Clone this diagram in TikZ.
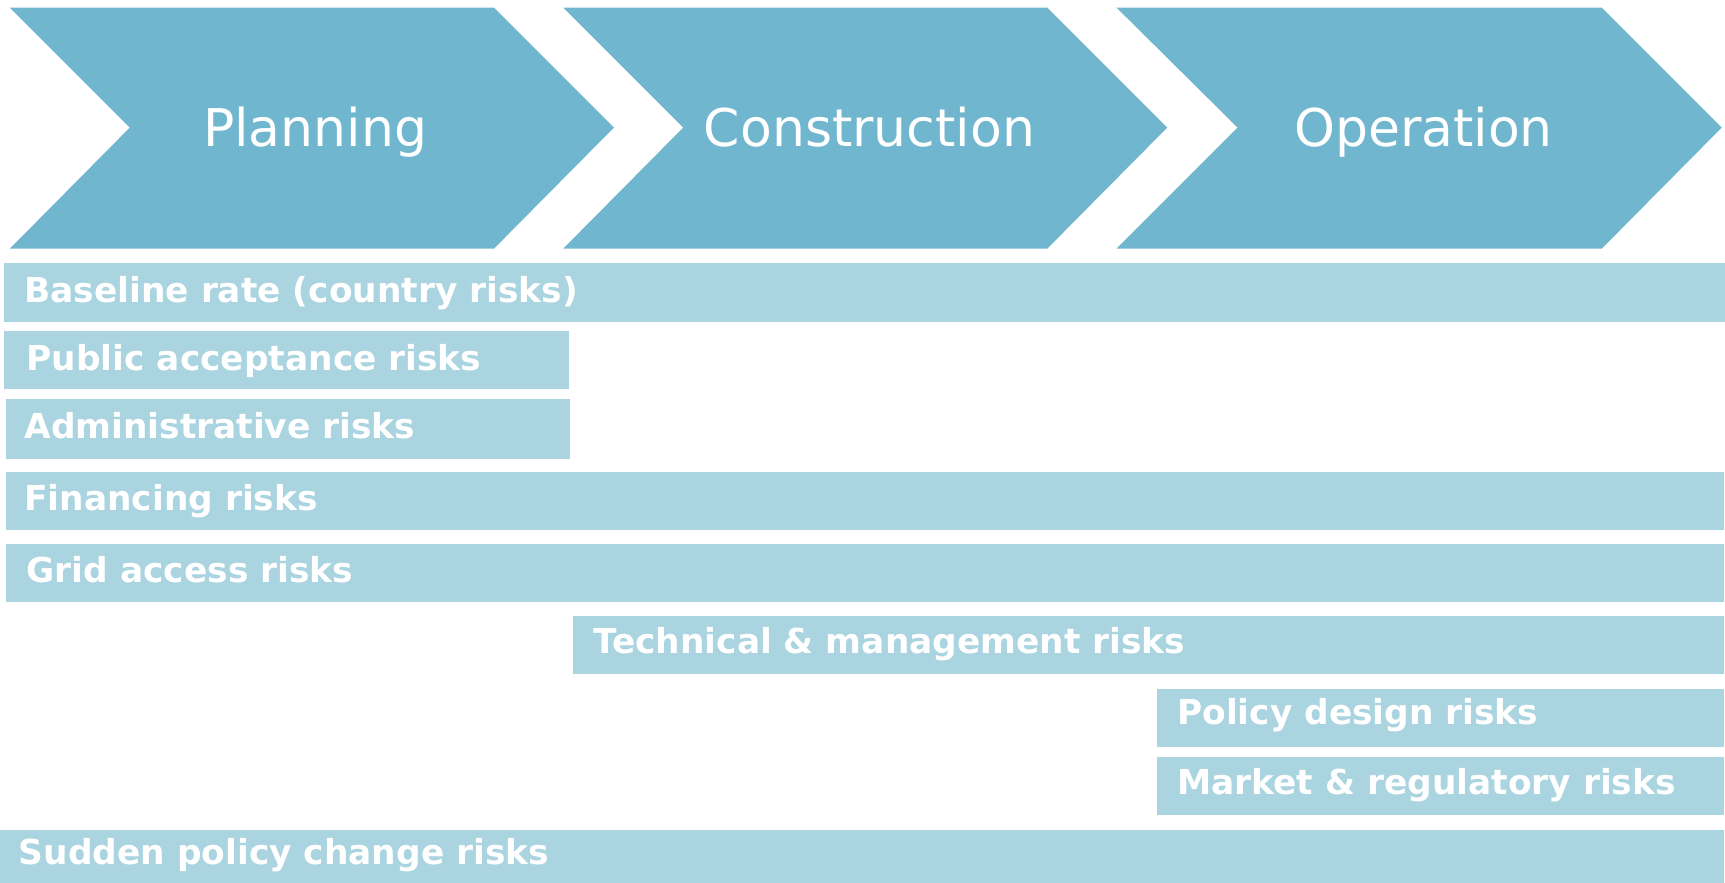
\documentclass[tikz,border=0pt]{standalone}
\usepackage{fontspec}
\setmainfont{DejaVu Sans}
\definecolor{chev}{RGB}{112,182,207}
\definecolor{barc}{RGB}{169,212,224}
\begin{document}
\begin{tikzpicture}[x=1pt,y=-1pt,
  chevron/.style={fill=chev},
  riskbar/.style={fill=barc},
  phase/.style={text=white,inner sep=0pt,anchor=base,font=\fontsize{52}{60}\selectfont},
  risk/.style={text=white,inner sep=0pt,anchor=base west,font=\bfseries\fontsize{34.4}{40}\selectfont}]
\useasboundingbox (0,0) rectangle (1725,883);
% chevrons
\fill[chevron] (9.9,7.7) -- (494,7.7) -- (613.9,127.6) -- (494,248.6) -- (9.9,248.6) -- (129.8,127.6) -- cycle;
\fill[chevron] (563.3,7.7) -- (1047.3,7.7) -- (1167.2,127.6) -- (1047.3,248.6) -- (563.3,248.6) -- (683.2,127.6) -- cycle;
\fill[chevron] (1116.6,7.7) -- (1601.8,7.7) -- (1721.7,127.6) -- (1601.8,248.6) -- (1116.6,248.6) -- (1237.6,127.6) -- cycle;
\node[phase] (planning) at (315,146.3) {Planning};
\node[phase] (construction) at (869.5,146.3) {Construction};
\node[phase] (operation) at (1423.5,146.3) {Operation};
% bars
\fill[riskbar] (4.4,263) rectangle (1725,322.3);
\fill[riskbar] (4.4,331) rectangle (568.8,389.4);
\fill[riskbar] (5.5,399.3) rectangle (569.9,458.7);
\fill[riskbar] (5.5,472) rectangle (1724,530);
\fill[riskbar] (5.5,543.5) rectangle (1724,601.8);
\fill[riskbar] (573,616) rectangle (1724,674.4);
\fill[riskbar] (1157,688.7) rectangle (1724,747);
\fill[riskbar] (1157,757) rectangle (1724,815);
\fill[riskbar] (0,829.5) rectangle (1724,883);
% labels
\node[risk] (baseline) at (24.2,302.2) {Baseline rate (country risks)};
\node[risk] (public) at (26.4,370.6) {Public acceptance risks};
\node[risk] (admin) at (24.2,438.8) {Administrative risks};
\node[risk] (financing) at (24.2,510.3) {Financing risks};
\node[risk] (grid) at (26.4,582.8) {Grid access risks};
\node[risk] (technical) at (593,653.2) {Technical \& management risks};
\node[risk] (policy) at (1177,724.6) {Policy design risks};
\node[risk] (market) at (1177,794) {Market \& regulatory risks};
\node[risk] (sudden) at (18.7,864.6) {Sudden policy change risks};
\end{tikzpicture}
\end{document}
